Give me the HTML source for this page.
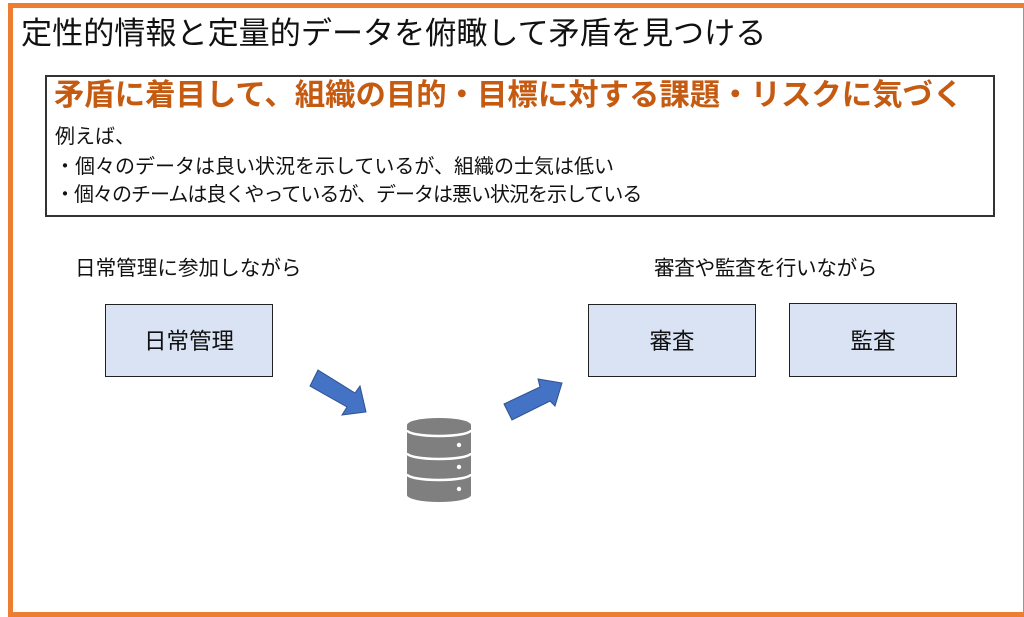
<!DOCTYPE html>
<html>
<head>
<meta charset="utf-8">
<style>
  html,body{margin:0;padding:0;}
  body{width:1024px;height:613px;position:relative;overflow:hidden;background:#fff;
    font-family:"Liberation Sans","Noto Sans CJK JP",sans-serif;color:#111;}
  .frame{position:absolute;left:8px;top:3px;width:1020px;height:614px;box-sizing:border-box;border:5px solid #ED7D31;}
  .t{position:absolute;white-space:nowrap;line-height:1;}
  .title{left:21px;top:18px;font-size:31.1px;}
  .box{position:absolute;left:45px;top:75px;width:950px;height:142px;box-sizing:border-box;border:2px solid #333;}
  .head{left:54px;top:80px;font-size:30.4px;font-weight:bold;color:#C55A11;}
  .b{font-size:20px;left:55px;}
  .node{position:absolute;box-sizing:border-box;border:1.5px solid #222;background:#DAE3F3;
    display:flex;align-items:center;justify-content:center;font-size:22.5px;line-height:1;}
  .node span{position:relative;top:2px;}
  .lbl{font-size:20.6px;top:259px;}
</style>
</head>
<body>
<div class="frame"></div>
<div class="t title">定性的情報と定量的データを俯瞰して矛盾を見つける</div>
<div class="box"></div>
<div class="t head">矛盾に着目して、組織の目的・目標に対する課題・リスクに気づく</div>
<div class="t b" style="top:127px;">例えば、</div>
<div class="t b" style="top:157px;">・個々のデータは良い状況を示しているが、組織の士気は低い</div>
<div class="t b" style="top:185px;letter-spacing:-1px;">・個々のチームは良くやっているが、データは悪い状況を示している</div>

<div class="t lbl" style="left:75px;">日常管理に参加しながら</div>
<div class="t lbl" style="left:654px;letter-spacing:-0.3px;">審査や監査を行いながら</div>

<div class="node" style="left:105px;top:304px;width:168px;height:73px;"><span>日常管理</span></div>
<div class="node" style="left:588px;top:304px;width:168px;height:73px;"><span>審査</span></div>
<div class="node" style="left:789px;top:303px;width:168px;height:74px;"><span>監査</span></div>

<svg width="1024" height="613" style="position:absolute;left:0;top:0;" xmlns="http://www.w3.org/2000/svg">
  <polygon points="318,370 355,393 360,386 366,412 342,415 347,407 310,386" fill="#4472C4" stroke="#2F528F" stroke-width="1"/>
  <polygon points="504,404 540,387 538,379 562,383 555,406 550,401 512,420" fill="#4472C4" stroke="#2F528F" stroke-width="1"/>
  <g fill="#7F7F7F">
    <ellipse cx="439" cy="425" rx="32" ry="7"/>
    <rect x="407" y="425" width="64" height="70"/>
    <ellipse cx="439" cy="495" rx="32" ry="7"/>
  </g>
  <g fill="none" stroke="#fff" stroke-width="2.5">
    <path d="M407,430 A32,6 0 0 0 471,430"/>
    <path d="M407,453 A32,6 0 0 0 471,453"/>
    <path d="M407,474 A32,6 0 0 0 471,474"/>
  </g>
  <g fill="#fff">
    <circle cx="459" cy="445" r="2.2"/>
    <circle cx="459" cy="467" r="2.2"/>
    <circle cx="459" cy="489" r="2.2"/>
  </g>
</svg>
</body>
</html>
